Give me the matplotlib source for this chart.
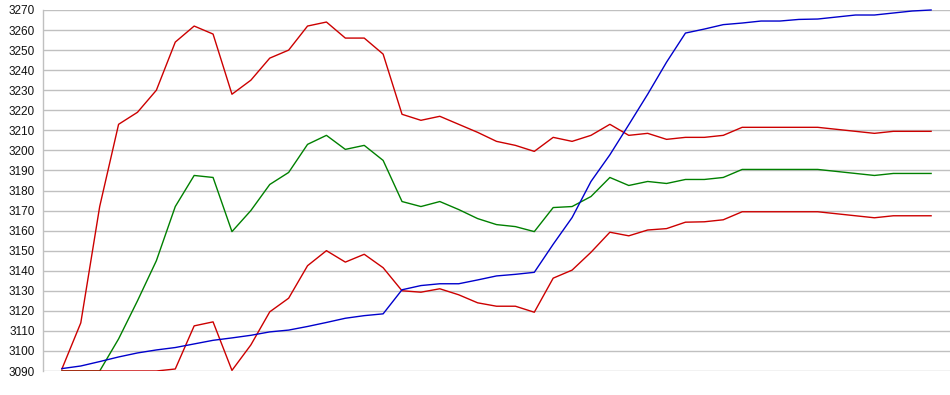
import matplotlib
matplotlib.use("Agg")
import matplotlib.pyplot as plt
import numpy as np

# Data, 47 points each
upper_red = [3091, 3114, 3172, 3213, 3219, 3230, 3254, 3262, 3258, 3228,
             3235, 3246, 3250, 3262, 3264, 3256, 3256, 3248, 3218, 3215,
             3217, 3213, 3209, 3204.5, 3202.5, 3199.5, 3206.5, 3204.5, 3207.5, 3213,
             3207.5, 3208.5, 3205.5, 3206.5, 3206.5, 3207.5, 3211.5, 3211.5, 3211.5, 3211.5,
             3211.5, 3210.5, 3209.5, 3208.5, 3209.5, 3209.5, 3209.5]
green = [3090, 3090, 3090, 3106, 3125, 3145, 3172, 3187.5, 3186.5, 3159.5,
         3170, 3183, 3189, 3203, 3207.5, 3200.5, 3202.5, 3195, 3174.5, 3172,
         3174.5, 3170.5, 3166, 3163, 3162, 3159.5, 3171.5, 3172, 3177, 3186.5,
         3182.5, 3184.5, 3183.5, 3185.5, 3185.5, 3186.5, 3190.5, 3190.5, 3190.5, 3190.5,
         3190.5, 3189.5, 3188.5, 3187.5, 3188.5, 3188.5, 3188.5]
lower_red = [3090, 3090, 3090, 3090, 3090, 3090, 3091, 3112.5, 3114.5, 3090.3,
             3103, 3119.5, 3126.3, 3142.5, 3150, 3144.3, 3148.2, 3141.5, 3130, 3129.3,
             3131, 3128, 3124, 3122.3, 3122.3, 3119.3, 3136.3, 3140.3, 3149.2, 3159.2,
             3157.4, 3160.3, 3161, 3164.2, 3164.4, 3165.4, 3169.4, 3169.4, 3169.4, 3169.4,
             3169.4, 3168.4, 3167.4, 3166.4, 3167.4, 3167.4, 3167.4]
blue = [3091.2, 3092.5, 3094.7, 3097, 3099, 3100.5, 3101.7, 3103.5, 3105.3, 3106.5,
        3107.8, 3109.5, 3110.4, 3112.2, 3114.2, 3116.3, 3117.6, 3118.5, 3130.5, 3132.6,
        3133.5, 3133.5, 3135.4, 3137.4, 3138.2, 3139.2, 3153.2, 3166.5, 3184.5, 3197.8,
        3212.8, 3228, 3244, 3258.5, 3260.5, 3262.7, 3263.5, 3264.5, 3264.5, 3265.3,
        3265.5, 3266.5, 3267.5, 3267.5, 3268.5, 3269.5, 3270]
y_ticks = list(range(3090, 3271, 10))

fig = plt.figure(figsize=(9.5, 3.95), dpi=100)
ax = fig.add_axes([43 / 950, 1 - 371 / 395, 1 - 43 / 950, (371 - 10) / 395])

x = np.arange(len(blue))
lw = 1.0
ax.plot(x, green, color="#008000", lw=lw, zorder=3)
ax.plot(x, lower_red, color="#CC0000", lw=lw, zorder=4)
ax.plot(x, upper_red, color="#CC0000", lw=lw, zorder=4)
ax.plot(x, blue, color="#0000CC", lw=lw, zorder=5, clip_on=False)

ax.set_xlim(-1, len(blue))
ax.set_ylim(3090, 3270)
ax.set_yticks(y_ticks)
ax.set_yticklabels([str(v) for v in y_ticks], fontsize=8.5, family="Liberation Sans", color="#111111")
ax.tick_params(axis="y", length=0, pad=6)
ax.set_xticks([])
ax.grid(axis="y", color="#C0C0C0", lw=1.0)
ax.set_axisbelow(True)
for s in ["top", "right", "bottom"]:
    ax.spines[s].set_visible(False)
ax.spines["left"].set_color("#C0C0C0")
ax.spines["left"].set_linewidth(1.0)

fig.savefig("out.png", dpi=100)
